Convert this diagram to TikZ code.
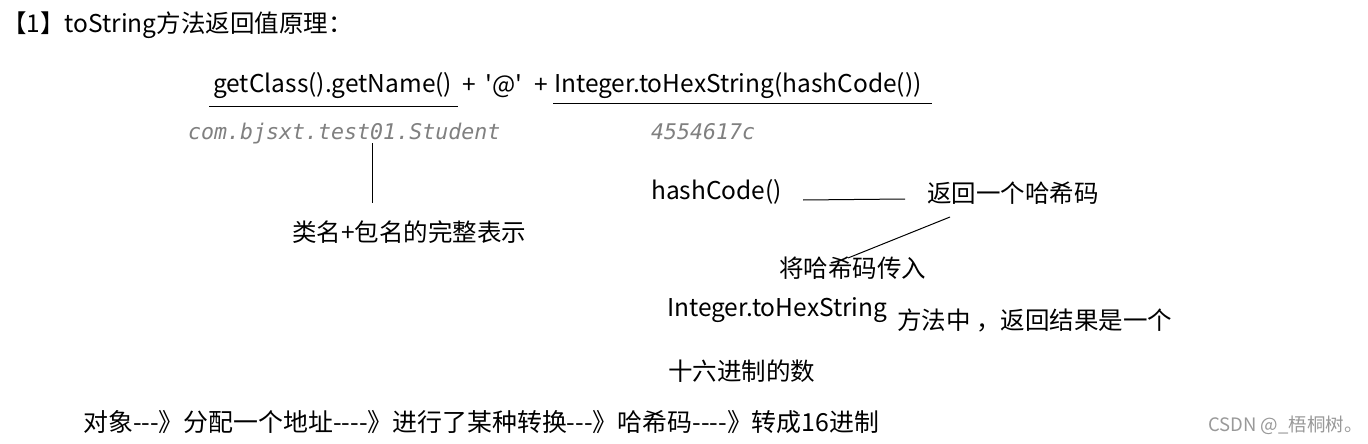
\documentclass[tikz,border=0pt]{standalone}
\usepackage{fontspec}
\setmainfont[Ligatures=TeXOff]{Noto Sans CJK SC}
\newfontfamily\codefont{DejaVu Sans Mono}
\begin{document}
\begin{tikzpicture}[x=1pt,y=-1pt,
  txt/.style={anchor=west,inner sep=0pt,font=\fontsize{24.5}{28}\selectfont},
  code/.style={anchor=west,inner sep=0pt,text=gray,font=\codefont\itshape\fontsize{21.6}{24}\selectfont},
  ln/.style={draw=black,line width=1pt}]
\useasboundingbox[fill=white] (0,0) rectangle (1368,444);
\node[txt] (title) at (2,25) {【1】toString方法返回值原理：};
\node[txt] (expr1) at (213,86) {getClass().getName()};
\node[txt] (plus) at (462,86) {+\hspace{10pt}'@'\hspace{12pt}+};
\node[txt] (expr2) at (554,86) {Integer.toHexString(hashCode())};
\coordinate (u1a) at (209,106); \coordinate (u1b) at (458,106);
\coordinate (u2a) at (553,103); \coordinate (u2b) at (932,103);
\draw[ln] (u1a) -- (u1b);
\draw[ln] (u2a) -- (u2b);
\node[code] (cls) at (188,134) {com.bjsxt.test01.Student};
\node[code] (hex) at (651,132) {4554617c};
\node[txt] (full) at (292,232) {类名+包名的完整表示};
\coordinate (v1) at (372,143); \coordinate (v2) at (372,203);
\draw[ln] (v1) -- (v2);
\node[txt] (hc) at (651,192) {hashCode()};
\node[txt] (ret) at (927,193) {返回一个哈希码};
\coordinate (h1) at (803,200); \coordinate (h2) at (905,199);
\draw[ln] (h1) -- (h2);
\node[txt] (pass) at (779,268) {将哈希码传入};
\coordinate (d1) at (950,217); \coordinate (d2) at (848,258);
\draw[ln] (d1) -- (d2);
\node[txt] (its) at (667,310) {Integer.toHexString};
\node[txt] (its2) at (897,320) {方法中 ，返回结果是一个};
\node[txt] (sixteen) at (668,371) {十六进制的数};
\node[txt,font=\fontsize{24.9}{28}\selectfont] (chain) at (83,422) {对象---》分配一个地址----》进行了某种转换---》哈希码----》转成16进制};
\node[anchor=west,inner sep=0pt,text=gray!80,font=\fontsize{18.5}{20}\selectfont] (wm) at (1208,425) {CSDN @\_梧桐树。};
\end{tikzpicture}
\end{document}
